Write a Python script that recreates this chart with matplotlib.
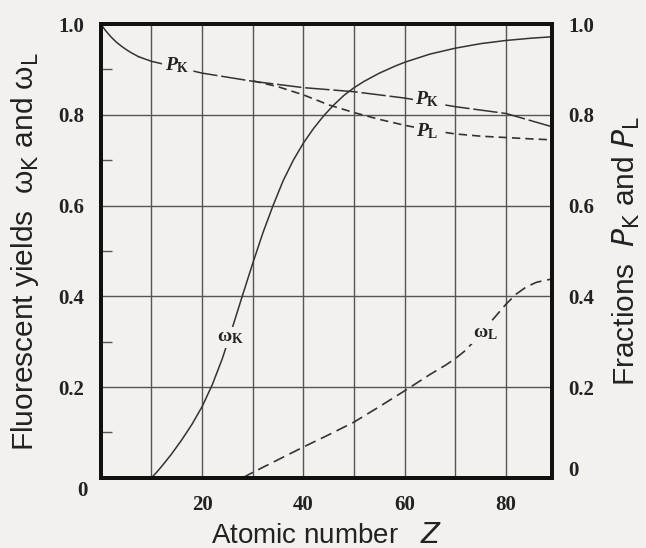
import matplotlib
matplotlib.use("Agg")
import matplotlib.pyplot as plt
from matplotlib.font_manager import FontProperties

z_wk = [10, 11, 12, 14, 16, 18, 20, 22, 24, 26, 28, 30, 32, 34, 36, 38, 40, 42, 44, 46, 48,
        50, 52, 55, 58, 60, 65, 70, 75, 80, 85, 89]
omega_k = [0, 0.012, 0.025, 0.053, 0.084, 0.118, 0.157, 0.205, 0.263, 0.332, 0.403, 0.473,
           0.54, 0.60, 0.655, 0.70, 0.738, 0.77, 0.798, 0.822, 0.843, 0.86, 0.874, 0.892,
           0.907, 0.916, 0.934, 0.947, 0.957, 0.964, 0.969, 0.972]

z_wl = [28, 30, 35, 40, 45, 50, 55, 60, 65, 68, 70, 72, 74, 76, 78, 80, 82, 84, 86, 88, 89]
omega_l = [0, 0.012, 0.04, 0.068, 0.095, 0.123, 0.157, 0.192, 0.228, 0.248, 0.263, 0.281,
           0.305, 0.331, 0.357, 0.383, 0.405, 0.421, 0.431, 0.436, 0.438]

z_pk_start = [0, 1, 2, 3, 4, 5, 6, 7.5]
p_k_start = [1.0, 0.985, 0.972, 0.961, 0.952, 0.944, 0.937, 0.928]
z_pk = [7.5, 10, 15, 20, 30, 40, 50, 60, 70, 80, 89]
p_k = [0.928, 0.918, 0.905, 0.892, 0.874, 0.86, 0.851, 0.837, 0.818, 0.803, 0.774]

z_pl = [30, 35, 40, 45, 50, 55, 60, 65, 70, 75, 80, 85, 89]
p_l = [0.875, 0.862, 0.844, 0.822, 0.805, 0.79, 0.777, 0.766, 0.758, 0.753, 0.750, 0.747, 0.745]

x_ticks = [0, 10, 20, 30, 40, 50, 60, 70, 80]
x_labels = ['', '', '20', '', '40', '', '60', '', '80']
y_ticks = [0, 0.2, 0.4, 0.6, 0.8, 1.0]
y_left_labels = ['', '0.2', '0.4', '0.6', '0.8', '1.0']
y_right_labels = ['', '0.2', '0.4', '0.6', '0.8', '1.0']
y_minor = [0.1, 0.3, 0.5, 0.7, 0.9]

bg = '#f3f1ee'
ink = '#333333'
grid_c = '#555555'

plt.rcParams['mathtext.fontset'] = 'custom'
plt.rcParams['mathtext.rm'] = 'Liberation Serif:bold'
plt.rcParams['mathtext.it'] = 'Liberation Serif:italic:bold'
plt.rcParams['mathtext.bf'] = 'Liberation Serif:bold'

fig = plt.figure(figsize=(6.46, 5.48), dpi=100, facecolor=bg)
ax = fig.add_axes([0.156, 0.128, 0.698, 0.828], facecolor=bg)

ax.set_xlim(0, 89)
ax.set_ylim(0, 1.0)

ax.set_xticks(x_ticks)
ax.set_xticklabels(x_labels)
ax.set_yticks(y_ticks)
ax.set_yticklabels(y_left_labels)
ax.set_yticks(y_minor, minor=True)
ax.grid(True, which='major', color=grid_c, linewidth=1.0)
ax.set_axisbelow(True)

tick_font = dict(family='Liberation Serif', weight='bold', size=15)
ax.tick_params(axis='both', which='major', length=0, pad=12, colors='#222222')
ax.tick_params(axis='y', which='minor', direction='in', length=8, width=1.0,
               color=grid_c, right=True)
for lab in ax.get_xticklabels() + ax.get_yticklabels():
    lab.set_fontproperties(FontProperties(**tick_font))

ax2 = ax.twinx()
ax2.set_ylim(0, 1.0)
ax2.set_yticks(y_ticks)
ax2.set_yticklabels(y_right_labels)
ax2.tick_params(axis='y', which='major', length=0, pad=12, colors='#222222')
for lab in ax2.get_yticklabels():
    lab.set_fontproperties(FontProperties(**tick_font))

for a in (ax, ax2):
    for s in a.spines.values():
        s.set_linewidth(2.8)
        s.set_color('#111111')

# the two zeros sit a little off their tick positions
ax.text(-0.04, -0.028, '0', transform=ax.transAxes, ha='center', va='center',
        color='#222222', **tick_font)
ax.text(1.049, 0.015, '0', transform=ax.transAxes, ha='center', va='center',
        color='#222222', **tick_font)

ax.plot(z_wk, omega_k, color=ink, lw=1.1)
ax.plot(z_wl, omega_l, color=ink, lw=1.2, linestyle=(0, (7, 3.5)))
ax.plot(z_pk_start, p_k_start, color=ink, lw=1.1)
ax.plot(z_pk, p_k, color=ink, lw=1.1, linestyle=(0, (16, 2.5)))
ax.plot(z_pl, p_l, color=ink, lw=1.2, linestyle=(0, (5, 3)))

lab_box = dict(facecolor=bg, edgecolor='none', pad=1.5)
curve_font = dict(family='Liberation Serif', weight='bold', fontsize=14, color='#222222')
ax.text(25.5, 0.31, r'ω$_{\mathrm{K}}$', ha='center', va='center',
        bbox=lab_box, zorder=5, **curve_font)
ax.text(76, 0.318, r'ω$_{\mathrm{L}}$', ha='center', va='center',
        bbox=lab_box, zorder=5, **curve_font)
ax.text(15, 0.91, r'$P_{\mathrm{K}}$', ha='center', va='center',
        bbox=lab_box, zorder=5, **curve_font)
ax.text(64.5, 0.835, r'$P_{\mathrm{K}}$', ha='center', va='center',
        bbox=lab_box, zorder=5, **curve_font)
ax.text(64.5, 0.765, r'$P_{\mathrm{L}}$', ha='center', va='center',
        bbox=lab_box, zorder=5, **curve_font)

xlab_font = dict(family='Liberation Sans', size=20, color='#222222',
                 math_fontfamily='dejavusans')
ylab_font = dict(family='Liberation Sans', size=21.5, color='#222222',
                 math_fontfamily='dejavusans')
ax.set_xlabel(r'Atomic number   $Z$', labelpad=6, **xlab_font)
ax.set_ylabel(r'Fluorescent yields  ω$_{\mathrm{K}}$ and ω$_{\mathrm{L}}$',
              labelpad=12, **ylab_font)
ax2.set_ylabel(r'Fractions  $P_{\mathrm{K}}$ and $P_{\mathrm{L}}$', labelpad=12,
               **ylab_font)

fig.savefig('out.png', dpi=100, facecolor=bg)
